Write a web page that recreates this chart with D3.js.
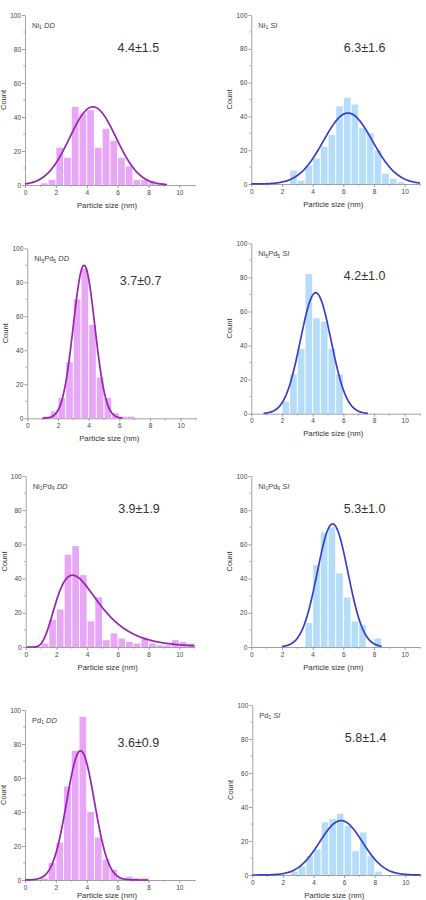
<!DOCTYPE html>
<html><head><meta charset="utf-8">
<script src="https://cdn.jsdelivr.net/npm/d3@7"></script>
<style>body{margin:0;background:#fff}svg{display:block}</style>
</head><body>
<svg id="c" width="426" height="900"></svg>
<script>
// ---------- data ----------
const binStarts = [0,0.5,1,1.5,2,2.5,3,3.5,4,4.5,5,5.5,6,6.5,7,7.5,8,8.5,9,9.5,10,10.5];
const binWidth = 0.5;
const xTicks = [0,2,4,6,8,10];
const xMinorTicks = [1,3,5,7,9,11];
const yTicks = [0,20,40,60,80,100];
const yMinorTicks = [10,30,50,70,90];

const countsNi1DD   = [0,0,1,3,22,16,46,42,44,22,33,26,16,11,3,3,2,1,0,0,0,0];
const countsNi1SI   = [0,0,0,0,0,8,2,11,15,22,29,46,51,47,33,30,20,6,3,1,0,0];
const countsNi5Pd5DD= [0,0,1,4,12,33,70,88,55,24,12,3,1,1,0,0,0,0,0,0,0,0];
const countsNi5Pd5SI= [0,0,0,0,7,23,38,82,56,54,38,23,0,0,0,0,0,0,0,0,0,0];
const countsNi1Pd9DD= [0,0,2,16,22,54,59,42,15,29,4,8,5,3,2,5,2,1,1,4,3,2];
const countsNi1Pd9SI= [0,0,0,0,0,0,0,14,48,67,70,43,29,15,13,0,5,0,0,0,0,0];
const countsPd1DD   = [0,0,1,10,22,55,76,96,40,25,12,6,1,2,1,1,0,0,0,0,0,0];
const countsPd1SI   = [0,0,0,0,0,2,5,11,15,31,33,36,29,14,25,11,2,0,0,0,0,0];

const panelCounts = [countsNi1DD,countsNi1SI,countsNi5Pd5DD,countsNi5Pd5SI,countsNi1Pd9DD,countsNi1Pd9SI,countsPd1DD,countsPd1SI];
const panelMethod = ["DD","SI","DD","SI","DD","SI","DD","SI"];
// sample names as [text, isSubscript] pieces
const panelSample = [
  [["Ni",0],["1",1]],
  [["Ni",0],["1",1]],
  [["Ni",0],["5",1],["Pd",0],["5",1]],
  [["Ni",0],["5",1],["Pd",0],["5",1]],
  [["Ni",0],["1",1],["Pd",0],["9",1]],
  [["Ni",0],["1",1],["Pd",0],["9",1]],
  [["Pd",0],["1",1]],
  [["Pd",0],["1",1]]
];
const valueLabels = ["4.4\u00B11.5","6.3\u00B11.6","3.7\u00B10.7","4.2\u00B11.0","3.9\u00B11.9","5.3\u00B11.0","3.6\u00B10.9","5.8\u00B11.4"];
const xAxisTitle = "Particle size (nm)";
const yAxisTitle = "Count";

// fit curves: shape, centre (mode), width, peak height, x range
const fitShape  = ["gauss","gauss","gauss","gauss","lognormal","gauss","gauss","gauss"];
const fitCentre = [4.4,6.3,3.7,4.2,3.05,5.3,3.6,5.8];
const fitWidth  = [1.5,1.6,0.7,1.0,0.45,1.0,0.9,1.4];
const fitPeak   = [46,42,90,71,42,72,76,32];
const fitFrom   = [0,0,1.0,0.8,0.05,2.0,0,0];
const fitTo     = [9.2,11,6.2,7.6,11,8.5,8.0,11];

// ---------- layout ----------
const layout = [
  {x0:25,   u:15.43, y0:185,   y100:15},
  {x0:251.3,u:15.34, y0:184,   y100:15},
  {x0:27.3, u:15.34, y0:418.3, y100:248.3},
  {x0:251.3,u:15.34, y0:413.7, y100:243.3},
  {x0:25.7, u:15.36, y0:647,   y100:476},
  {x0:251.3,u:15.34, y0:647,   y100:476},
  {x0:25,   u:15.43, y0:880,   y100:710},
  {x0:252.3,u:15.30, y0:875,   y100:705}
];
const style = {
  DD:{bar:"#e8a6f6", line:"#9a22b0"},
  SI:{bar:"#b5dcf8", line:"#3b3fc6"}
};
const FONT = "'Liberation Sans', Arial, sans-serif";

const svg = d3.select("#c");

function fitValue(i, x){
  const c = fitCentre[i], w = fitWidth[i], p = fitPeak[i];
  if (fitShape[i] === "gauss") return p*Math.exp(-((x-c)*(x-c))/(2*w*w));
  const mu = Math.log(c) + w*w;
  const f = (c/x)*Math.exp(-Math.pow(Math.log(x)-mu,2)/(2*w*w));
  return p*f/Math.exp(-w*w/2);
}

panelCounts.forEach((counts, i) => {
  const L = layout[i];
  const m = style[panelMethod[i]];
  const x = d3.scaleLinear().domain([0,11]).range([L.x0, L.x0 + 11*L.u]);
  const y = d3.scaleLinear().domain([0,100]).range([L.y0, L.y100]);
  const g = svg.append("g");

  // bars
  g.selectAll("rect.bar").data(binStarts.map((b,k)=>({b, v:counts[k]})).filter(d=>d.v>0))
    .enter().append("rect").attr("class","bar")
    .attr("x", d => x(d.b)+0.5)
    .attr("width", d => x(d.b+binWidth)-x(d.b)-1)
    .attr("y", d => y(d.v))
    .attr("height", d => y(0)-y(d.v))
    .attr("fill", m.bar);

  // axes
  const ax = g.append("g").attr("transform",`translate(0,${L.y0})`)
    .call(d3.axisBottom(x).tickValues(xTicks).tickSize(3).tickSizeOuter(0).tickPadding(2));
  const ay = g.append("g").attr("transform",`translate(${L.x0},0)`)
    .call(d3.axisLeft(y).tickValues(yTicks).tickSize(3).tickSizeOuter(0).tickPadding(1));
  [ax,ay].forEach(a=>{
    a.select(".domain").attr("stroke","#8a8a8a").attr("stroke-width",0.8);
    a.selectAll(".tick line").attr("stroke","#8a8a8a").attr("stroke-width",0.8);
    a.selectAll(".tick text").attr("fill","#444").style("font-family",FONT).style("font-size","6.5px");
  });
  g.selectAll("line.xm").data(xMinorTicks).enter().append("line")
    .attr("x1",d=>x(d)).attr("x2",d=>x(d)).attr("y1",L.y0).attr("y2",L.y0+1.8)
    .attr("stroke","#8a8a8a").attr("stroke-width",0.7);
  g.selectAll("line.ym").data(yMinorTicks).enter().append("line")
    .attr("y1",d=>y(d)).attr("y2",d=>y(d)).attr("x1",L.x0).attr("x2",L.x0-1.8)
    .attr("stroke","#8a8a8a").attr("stroke-width",0.7);

  // fit curve
  const pts = d3.range(fitFrom[i], fitTo[i]+1e-9, 0.05).map(v=>[v, fitValue(i,v)]);
  g.append("path").datum(pts)
    .attr("d", d3.line().x(d=>x(d[0])).y(d=>y(d[1])).curve(d3.curveMonotoneX))
    .attr("fill","none").attr("stroke",m.line).attr("stroke-width",1.7);

  // sample label
  const t = g.append("text").attr("x", L.x0+7).attr("y", L.y100+12.5)
    .style("font-family",FONT).style("font-size","7.5px").attr("fill","#444");
  let shift = 0;
  panelSample[i].forEach(([s,sub])=>{
    const target = sub ? 1.8 : 0;
    const ts = t.append("tspan").text(s).attr("dy", target - shift);
    if (sub) ts.style("font-size","5px");
    shift = target;
  });
  t.append("tspan").text(" ").attr("dy", -shift);
  t.append("tspan").text(panelMethod[i]).style("font-style","italic");

  // value label
  g.append("text").attr("x", L.x0+92.5).attr("y", L.y100+36.5)
    .style("font-family",FONT).style("font-size","12.5px").attr("fill","#333")
    .text(valueLabels[i]);

  // axis titles
  g.append("text").attr("x", L.x0+82).attr("y", Math.min(L.y0+22.5, 897.5)).attr("text-anchor","middle")
    .style("font-family",FONT).style("font-size","7.8px").attr("fill","#333")
    .text(xAxisTitle);
  g.append("text").attr("transform",`translate(${L.x0-19},${(L.y0+L.y100)/2}) rotate(-90)`)
    .attr("text-anchor","middle")
    .style("font-family",FONT).style("font-size","7.5px").attr("fill","#333")
    .text(yAxisTitle);
});
</script>
</body></html>
